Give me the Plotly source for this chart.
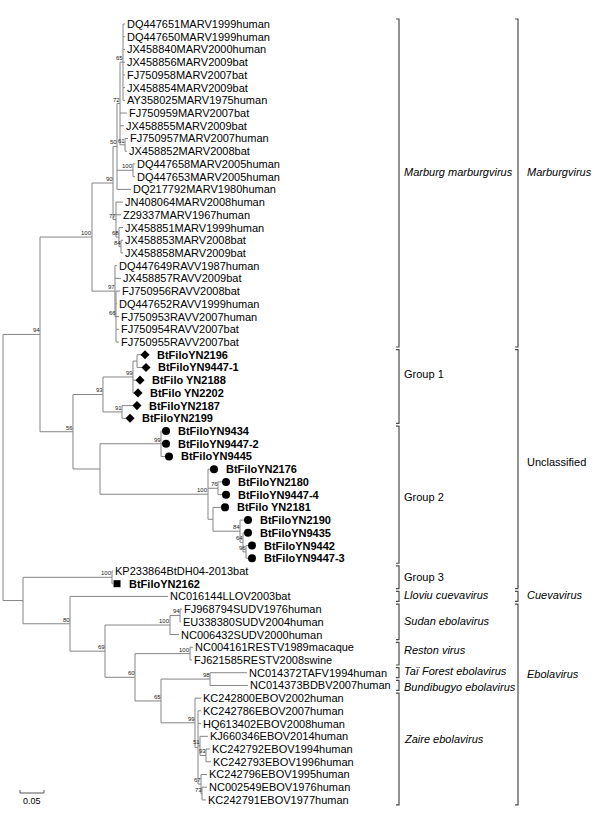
import plotly.graph_objects as go

# ---------------- DATA ----------------
leaf_names = [
    "DQ447651MARV1999human", "DQ447650MARV1999human", "JX458840MARV2000human",
    "JX458856MARV2009bat", "FJ750958MARV2007bat", "JX458854MARV2009bat",
    "AY358025MARV1975human", "FJ750959MARV2007bat", "JX458855MARV2009bat",
    "FJ750957MARV2007human", "JX458852MARV2008bat", "DQ447658MARV2005human",
    "DQ447653MARV2005human", "DQ217792MARV1980human", "JN408064MARV2008human",
    "Z29337MARV1967human", "JX458851MARV1999human", "JX458853MARV2008bat",
    "JX458858MARV2009bat", "DQ447649RAVV1987human", "JX458857RAVV2009bat",
    "FJ750956RAVV2008bat", "DQ447652RAVV1999human", "FJ750953RAVV2007human",
    "FJ750954RAVV2007bat", "FJ750955RAVV2007bat",
    "BtFiloYN2196", "BtFiloYN9447-1", "BtFilo YN2188", "BtFilo YN2202",
    "BtFiloYN2187", "BtFiloYN2199",
    "BtFiloYN9434", "BtFiloYN9447-2", "BtFiloYN9445", "BtFiloYN2176",
    "BtFiloYN2180", "BtFiloYN9447-4", "BtFilo YN2181", "BtFiloYN2190",
    "BtFiloYN9435", "BtFiloYN9442", "BtFiloYN9447-3",
    "KP233864BtDH04-2013bat", "BtFiloYN2162",
    "NC016144LLOV2003bat",
    "FJ968794SUDV1976human", "EU338380SUDV2004human", "NC006432SUDV2000human",
    "NC004161RESTV1989macaque", "FJ621585RESTV2008swine",
    "NC014372TAFV1994human", "NC014373BDBV2007human",
    "KC242800EBOV2002human", "KC242786EBOV2007human", "HQ613402EBOV2008human",
    "KJ660346EBOV2014human", "KC242792EBOV1994human", "KC242793EBOV1996human",
    "KC242796EBOV1995human", "NC002549EBOV1976human", "KC242791EBOV1977human",
]
leaf_group = (["ref"] * 26 + ["g1"] * 6 + ["g2"] * 11 + ["ref", "g3"] + ["ref"] * 17)
leaf_parent = [
    "N65", "N65", "N65", "N65", "N65", "N65", "N65", "N72", "N72", "N61", "N61",
    "N100a", "N100a", "N50", "N77", "N77", "N68", "N84a", "N84a",
    "RAVV", "RAVV", "N66", "N66", "N66", "N66", "N66",
    "G1b", "G1b", "G1a", "G1a", "G1c", "G1c",
    "G2a", "G2a", "G2a", "G2b", "G2c", "G2c", "G2d", "G2e", "G2f", "G2g", "G2g",
    "G3", "G3", "C", "SUDa", "SUDa", "SUD", "RES", "RES", "TB", "TB",
    "ZA", "Z2", "Z2", "Z51", "Z93", "Z93", "Z67", "Z73", "Z73",
]
# cumulative distance from the root (substitutions/site)
leaf_dist = [
    0.2542, 0.2542, 0.2542, 0.2542, 0.2542, 0.2542, 0.2542, 0.2583, 0.2521,
    0.2604, 0.2583, 0.2750, 0.2750, 0.2667, 0.2500, 0.2458, 0.2500, 0.2500,
    0.2500, 0.2375, 0.2458, 0.2438, 0.2375, 0.2417, 0.2417, 0.2417,
    0.2875, 0.2896, 0.2771, 0.2729, 0.2708, 0.2563,
    0.3313, 0.3313, 0.3375, 0.4313, 0.4563, 0.4563, 0.4542, 0.5021, 0.5021,
    0.5104, 0.5104,
    0.2292, 0.2292, 0.3438, 0.3729, 0.3708, 0.3667, 0.3958, 0.3938,
    0.5083, 0.5104, 0.4125, 0.4125, 0.4125, 0.4271, 0.4313, 0.4333,
    0.4250, 0.4250, 0.4229,
]

node_names = ["root", "A", "M", "MARV", "N50", "N72", "N65", "N61", "N100a",
              "N77", "N68", "N84a", "RAVV", "N66", "U", "G1", "G1a", "G1b",
              "G1c", "G2", "G2a", "G2b", "G2c", "G2d", "G2e", "G2f", "G2g",
              "B", "G3", "C", "D", "SUD", "SUDa", "E", "RES", "F", "TB", "ZA",
              "Z2", "Z51", "Z93", "Z67", "Z73"]
node_parent = [None, "root", "A", "M", "MARV", "N50", "N72", "N72", "N50",
               "MARV", "N77", "N68", "M", "RAVV", "A", "U", "G1", "G1a",
               "G1", "U", "G2", "G2", "G2b", "G2b", "G2d", "G2e", "G2f",
               "root", "B", "B", "C", "D", "SUD", "D", "E", "E", "F", "F",
               "ZA", "Z2", "Z51", "Z2", "Z67"]
node_dist = [0.0, 0.0771, 0.1854, 0.2292, 0.2375, 0.2438, 0.2500, 0.2542, 0.2708,
             0.2354, 0.2417, 0.2458, 0.2333, 0.2354, 0.1458, 0.2083, 0.2708, 0.2792,
             0.2479, 0.2021, 0.3292, 0.4271, 0.4479, 0.4375, 0.4938, 0.5000, 0.5063,
             0.0417, 0.2271, 0.1396, 0.2125, 0.3479, 0.3688, 0.2750, 0.3896, 0.3292,
             0.4313, 0.4000, 0.4063, 0.4104, 0.4229, 0.4125, 0.4146]
node_support = [None, 94, 100, 90, 50, 72, 65, 61, 100,
                77, 68, 84, 97, 66, 56, 93, 99, None,
                91, None, 99, 100, 76, None, 84, 64, 96,
                None, 100, 80, 69, 100, 94, 60, 100, 65, 98, 99,
                None, 51, 93, 67, 73]

clade_names = ["<i>Marburg marburgvirus</i>", "Group 1", "Group 2", "Group 3",
               "<i>Lloviu cuevavirus</i>", "<i>Sudan ebolavirus</i>",
               "<i>Reston virus</i>", "<i>Taï Forest ebolavirus</i>",
               "<i>Bundibugyo ebolavirus</i>", "<i>Zaire ebolavirus</i>"]
clade_first = [0, 26, 32, 43, 45, 46, 49, 51, 52, 53]
clade_last = [25, 31, 42, 44, 45, 48, 50, 51, 52, 61]

genus_names = ["<i>Marburgvirus</i>", "Unclassified", "<i>Cuevavirus</i>",
               "<i>Ebolavirus</i>"]
genus_first = [0, 26, 45, 46]
genus_last = [25, 44, 45, 61]

scale_bar_length = 0.05
scale_bar_label = "0.05"

# ---------------- LAYOUT CONSTANTS ----------------
W, H = 600, 818
X_ORIGIN_PX = 3.0
PX_PER_UNIT = 480.0
ROW_TOP_PX = 24.0
ROW_STEP_PX = 12.72
FONT = "Liberation Sans, Arial, sans-serif"
BRANCH_COLOR = "#858585"
BRACKET_COLOR = "#4a4a4a"
clade_label_rows = [11.64, 27.5, 37.2, 43.5, 44.9, 46.9, 49.2, 50.9, 52.1, 56.2]
genus_label_rows = [11.64, 34.4, 44.9, 51.1]


def dx(px):
    return px / PX_PER_UNIT


def xpx(px):
    return (px - X_ORIGIN_PX) / PX_PER_UNIT


def drow(px):
    return px / ROW_STEP_PX


# ---------------- TREE GEOMETRY ----------------
children = {n: [] for n in node_names}
for i, p in enumerate(leaf_parent):
    children[p].append(("leaf", i))
for n, p in zip(node_names, node_parent):
    if p is not None:
        children[p].append(("node", n))

ndist = dict(zip(node_names, node_dist))
nrow = {}
nspan = {}


def row_of(kind, key):
    if kind == "leaf":
        return float(key)
    return node_row(key)


def node_row(n):
    if n in nrow:
        return nrow[n]
    rows = [row_of(k, v) for k, v in children[n]]
    lo, hi = min(rows), max(rows)
    nspan[n] = (lo, hi)
    nrow[n] = (lo + hi) / 2
    return nrow[n]


node_row("root")

lx, ly = [], []
for n in node_names:
    lo, hi = nspan[n]
    x = ndist[n]
    lx += [x, x, None]
    ly += [lo, hi, None]
    for k, v in children[n]:
        if k == "leaf":
            cx, cy = leaf_dist[v], float(v)
        else:
            cx, cy = ndist[v], nrow[v]
        lx += [x, cx, None]
        ly += [cy, cy, None]

fig = go.Figure()
fig.add_trace(go.Scatter(x=lx, y=ly, mode="lines",
                         line=dict(color=BRANCH_COLOR, width=1),
                         hoverinfo="skip", showlegend=False))

# markers for bat filovirus sequences
sym = {"g1": ("diamond", 7), "g2": ("circle", 8), "g3": ("square", 7)}
for g, (s, size) in sym.items():
    idx = [i for i, gg in enumerate(leaf_group) if gg == g]
    fig.add_trace(go.Scatter(
        x=[leaf_dist[i] + dx(4) for i in idx], y=[float(i) for i in idx],
        mode="markers", marker=dict(symbol=s, size=size, color="black"),
        hoverinfo="skip", showlegend=False))

annotations = []
for i, name in enumerate(leaf_names):
    g = leaf_group[i]
    txt = f"<b>{name}</b>" if g != "ref" else name
    annotations.append(dict(
        x=leaf_dist[i], y=float(i), text=txt, showarrow=False,
        xanchor="left", yanchor="middle", xshift=(14 if g != "ref" else 0),
        font=dict(family=FONT, size=11, color="black")))

for n, s in zip(node_names, node_support):
    if s is None:
        continue
    annotations.append(dict(
        x=ndist[n], y=nrow[n], text=str(s), showarrow=False,
        xanchor="right", yanchor="middle", xshift=2, yshift=4,
        font=dict(family=FONT, size=6, color="#222222")))

shapes = []


def bracket(xp, first, last):
    y0 = first - drow(5)
    y1 = last + drow(5)
    x1 = xpx(xp)
    x0 = xpx(xp - 3)
    shapes.append(dict(type="path", xref="x", yref="y",
                       path=f"M {x0},{y0} L {x1},{y0} L {x1},{y1} L {x0},{y1}",
                       line=dict(color=BRACKET_COLOR, width=1.2)))


for name, f, l, r in zip(clade_names, clade_first, clade_last, clade_label_rows):
    bracket(399, f, l)
    annotations.append(dict(x=xpx(402), y=r, text=name, showarrow=False,
                            xanchor="left", yanchor="middle",
                            font=dict(family=FONT, size=11, color="black")))
for name, f, l, r in zip(genus_names, genus_first, genus_last, genus_label_rows):
    bracket(518, f, l)
    annotations.append(dict(x=xpx(525), y=r, text=name, showarrow=False,
                            xanchor="left", yanchor="middle",
                            font=dict(family=FONT, size=11, color="black")))

# scale bar
sb_x0 = xpx(20)
sb_y = drow(793 - ROW_TOP_PX)
tick = drow(3)
fig.add_trace(go.Scatter(
    x=[sb_x0, sb_x0 + scale_bar_length, None, sb_x0, sb_x0, None,
       sb_x0 + scale_bar_length, sb_x0 + scale_bar_length],
    y=[sb_y, sb_y, None, sb_y, sb_y - tick, None, sb_y, sb_y - tick],
    mode="lines", line=dict(color="#555555", width=1),
    hoverinfo="skip", showlegend=False))
annotations.append(dict(x=sb_x0 + scale_bar_length / 2, y=sb_y, text=scale_bar_label,
                        showarrow=False, xanchor="center", yanchor="top", yshift=-1,
                        font=dict(family=FONT, size=9, color="black")))

fig.update_layout(
    width=W, height=H, margin=dict(l=0, r=0, t=0, b=0),
    paper_bgcolor="white", plot_bgcolor="white",
    xaxis=dict(range=[xpx(0), xpx(W)], visible=False, fixedrange=True),
    yaxis=dict(range=[drow(H - ROW_TOP_PX), drow(-ROW_TOP_PX)], visible=False,
               fixedrange=True),
    annotations=annotations, shapes=shapes, showlegend=False,
)

fig.write_html(
    "out.html",
    config={"displayModeBar": False},
    post_script="document.body.style.margin='0';document.body.style.overflow='hidden';",
)
